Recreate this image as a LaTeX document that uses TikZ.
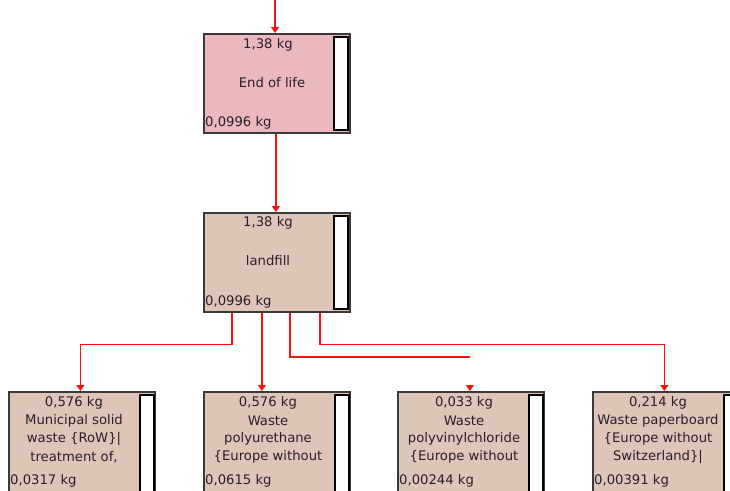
\documentclass[tikz,border=0pt]{standalone}
\usepackage{fontspec}
\setmainfont{DejaVu Sans}
\usetikzlibrary{arrows.meta}
\definecolor{pinkfill}{HTML}{EBB8BE}
\definecolor{tanfill}{HTML}{DDC6B8}
\definecolor{boxline}{HTML}{3A3A3A}
\definecolor{txt}{HTML}{2A1E2A}
\definecolor{flowred}{HTML}{FF1010}
\begin{document}
\begin{tikzpicture}[x=1pt,y=-1pt,
  box/.style={draw=boxline, line width=1.8pt, anchor=north west, inner sep=0pt,
    minimum width=146pt, minimum height=99pt},
  bottombox/.style={box, fill=tanfill, minimum height=115pt},
  bar/.style={draw=black, line width=1.5pt, fill=white, anchor=north west, inner sep=0pt,
    minimum width=14pt, minimum height=93pt},
  lbl/.style={inner sep=0pt, text=txt, font=\fontsize{13.2}{15}\selectfont},
  flow/.style={draw=flowred, line width=1.2pt},
  arr/.style={flow, -{Triangle[length=6pt,width=8pt]}}
]
\useasboundingbox (0,0) rectangle (730,490);
\clip (0,0) rectangle (730,490);
\fill[white] (0,0) rectangle (730,490);

% top boxes
\node[box, fill=pinkfill] (eol) at (203,33) {};
\node[bar] (eolbar) at ([xshift=130pt,yshift=-3pt]eol.north west) {};
\node[lbl] (eolq) at ([xshift=65pt,yshift=-12pt]eol.north west) {1,38 kg};
\node[lbl] (eoln) at ([xshift=69pt,yshift=-50pt]eol.north west) {End of life};
\node[lbl, anchor=west] (eolv) at ([xshift=2pt,yshift=-90pt]eol.north west) {0,0996 kg};

\node[box, fill=tanfill] (lf) at (203,212) {};
\node[bar] (lfbar) at ([xshift=130pt,yshift=-3pt]lf.north west) {};
\node[lbl] (lfq) at ([xshift=65pt,yshift=-11pt]lf.north west) {1,38 kg};
\node[lbl] (lfn) at ([xshift=65pt,yshift=-49pt]lf.north west) {landfill};
\node[lbl, anchor=west] (lfv) at ([xshift=2pt,yshift=-90pt]lf.north west) {0,0996 kg};

% bottom boxes
\node[bottombox] (b1) at (8,391) {};
\node[bottombox] (b2) at (203,391) {};
\node[bottombox] (b3) at (397,391) {};
\node[bottombox] (b4) at (592,391) {};
\foreach \b in {b1,b2,b3,b4}{
  \node[bar, minimum height=110pt] (\b bar) at ([xshift=131pt,yshift=-3pt]\b.north west) {};
}

\node[lbl] (b1a) at ([xshift=66pt,yshift=-12pt]b1.north west) {0,576 kg};
\node[lbl] (b1b) at ([xshift=66pt,yshift=-30pt]b1.north west) {Municipal solid};
\node[lbl] (b1c) at ([xshift=66pt,yshift=-48pt]b1.north west) {waste \{RoW\}|};
\node[lbl] (b1d) at ([xshift=66pt,yshift=-66pt]b1.north west) {treatment of,};
\node[lbl, anchor=west] (b1e) at ([xshift=2pt,yshift=-90pt]b1.north west) {0,0317 kg};

\node[lbl] (b2a) at ([xshift=65pt,yshift=-12pt]b2.north west) {0,576 kg};
\node[lbl] (b2b) at ([xshift=65pt,yshift=-30pt]b2.north west) {Waste};
\node[lbl] (b2c) at ([xshift=65pt,yshift=-48pt]b2.north west) {polyurethane};
\node[lbl] (b2d) at ([xshift=65pt,yshift=-66pt]b2.north west) {\{Europe without};
\node[lbl, anchor=west] (b2e) at ([xshift=2pt,yshift=-90pt]b2.north west) {0,0615 kg};

\node[lbl] (b3a) at ([xshift=67pt,yshift=-12pt]b3.north west) {0,033 kg};
\node[lbl] (b3b) at ([xshift=67pt,yshift=-30pt]b3.north west) {Waste};
\node[lbl] (b3c) at ([xshift=67pt,yshift=-48pt]b3.north west) {polyvinylchloride};
\node[lbl] (b3d) at ([xshift=67pt,yshift=-66pt]b3.north west) {\{Europe without};
\node[lbl, anchor=west] (b3e) at ([xshift=2pt,yshift=-90pt]b3.north west) {0,00244 kg};

\node[lbl] (b4a) at ([xshift=66pt,yshift=-12pt]b4.north west) {0,214 kg};
\node[lbl] (b4b) at ([xshift=66pt,yshift=-30pt]b4.north west) {Waste paperboard};
\node[lbl] (b4c) at ([xshift=66pt,yshift=-48pt]b4.north west) {\{Europe without};
\node[lbl] (b4d) at ([xshift=66pt,yshift=-66pt]b4.north west) {Switzerland\}|};
\node[lbl, anchor=west] (b4e) at ([xshift=2pt,yshift=-90pt]b4.north west) {0,00391 kg};

% connectors
\coordinate (src) at (275,0);
\draw[arr] (src) -- (src |- eol.north);
\coordinate (eolout) at ([xshift=-1pt]eol.south);
\draw[arr] (eolout) -- (eolout |- lf.north);

\coordinate (l1) at ([xshift=-45pt]lf.south);
\coordinate (l2) at ([xshift=-15pt]lf.south);
\coordinate (l3) at ([xshift=13pt]lf.south);
\coordinate (l4) at ([xshift=43pt]lf.south);
\coordinate (t1) at ([xshift=-1.5pt]b1.north);
\coordinate (t4) at ([xshift=-1.5pt]b4.north);
\coordinate (e3) at (470,357);

\draw[arr] (l1) -- ++(0,32) -| (t1);
\draw[arr] (l2) -- (l2 |- b2.north);
\draw[flow] (l3) |- (e3);
\draw[arr] ([yshift=6pt,xshift=-1pt]b3.north) -- ([xshift=-1pt]b3.north);
\draw[arr] (l4) -- ++(0,32) -| (t4);
\end{tikzpicture}
\end{document}
